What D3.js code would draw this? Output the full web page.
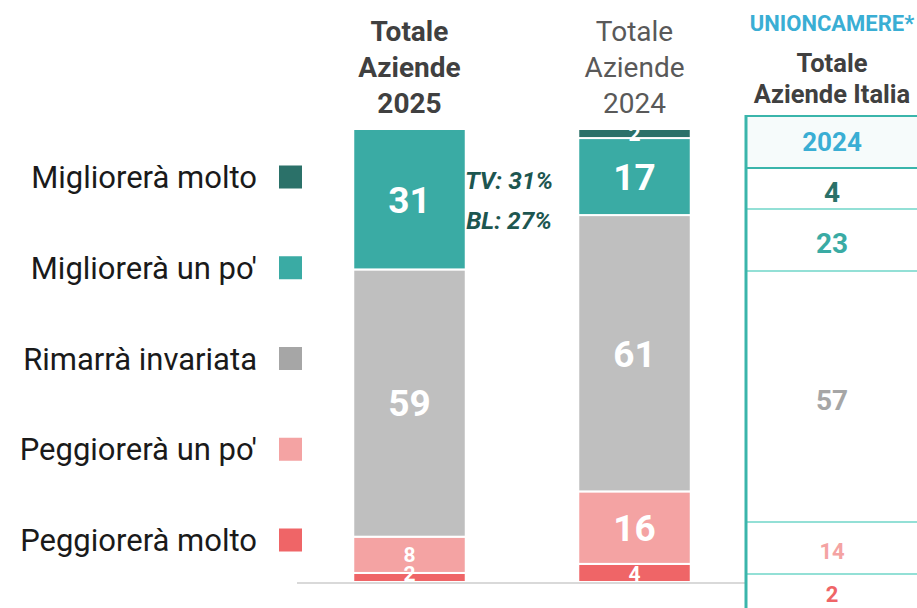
<!DOCTYPE html>
<html>
<head>
<meta charset="utf-8">
<script src="https://cdn.jsdelivr.net/npm/d3@7"></script>
<style>
  body { margin: 0; background: #fff; }
  svg { display: block; font-family: Roboto, "Noto Sans", sans-serif; }
</style>
</head>
<body>
<svg id="chart"></svg>
<script>
let w = 917;
let h = 608;

// categories and values (bottom to top of the stack)
let years = ["2025", "2024"];
let keys = ["Peggiorerà molto", "Peggiorerà un po'", "Rimarrà invariata", "Migliorerà un po'", "Migliorerà molto"];
let values2025 = [2, 8, 59, 31, 0];
let values2024 = [4, 16, 61, 17, 2];
let italia2024 = [2, 14, 57, 23, 4];
let tvLabel = "TV: 31%";
let blLabel = "BL: 27%";

let barColors = ["#ef6567", "#f4a3a3", "#bfbfbf", "#3aaba4", "#2b7169"];
let legendColors = ["#ef6567", "#f4a3a3", "#a6a6a6", "#3aaba4", "#2b7169"];

let svg = d3.select("#chart").attr("width", w).attr("height", h);

// build rows for d3.stack
let rows = years.map((y, i) => {
  let vals = i == 0 ? values2025 : values2024;
  let r = { year: y };
  keys.forEach((k, j) => r[k] = vals[j]);
  return r;
});
let series = d3.stack().keys(keys)(rows);

let xScale = d3.scaleBand()
  .domain(years)
  .range([297, 747])
  .paddingInner(0.5)
  .paddingOuter(0.25);
let yScale = d3.scaleLinear()
  .domain([0, 100])
  .range([582, 129]);
let cScale = d3.scaleOrdinal().domain(keys).range(barColors);

// flat list of non-empty segments
let segments = [];
series.forEach((s) => s.forEach((p) => {
  if (p[1] - p[0] > 0) segments.push({ key: s.key, year: p.data.year, y0: p[0], y1: p[1] });
}));

// bars
svg.append("g").selectAll("rect")
  .data(segments)
  .enter()
  .append("rect")
  .attr("x", (d) => xScale(d.year))
  .attr("y", (d) => yScale(d.y1))
  .attr("width", xScale.bandwidth())
  .attr("height", (d) => yScale(d.y0) - yScale(d.y1))
  .attr("fill", (d) => cScale(d.key))
  .attr("stroke", "#fff")
  .attr("stroke-width", 2);

// bar labels (small bottom segments pushed up a little, like the original)
svg.append("g").selectAll("text")
  .data(segments)
  .enter()
  .append("text")
  .attr("x", (d) => xScale(d.year) + xScale.bandwidth() / 2)
  .attr("y", (d) => Math.min((yScale(d.y0) + yScale(d.y1)) / 2, yScale(0) - 9))
  .attr("dy", "0.36em")
  .attr("text-anchor", "middle")
  .attr("fill", "#fff")
  .attr("font-weight", 700)
  .attr("font-size", (d) => (d.y1 - d.y0) >= 10 ? 37 : 21)
  .text((d) => d.y1 - d.y0);

// baseline
svg.append("line")
  .attr("x1", 297).attr("x2", 746)
  .attr("y1", yScale(0) + 1).attr("y2", yScale(0) + 1)
  .attr("stroke", "#d9d9d9")
  .attr("stroke-width", 2);

// column headers
let headers = [["Totale", "Aziende", "2025"], ["Totale", "Aziende", "2024"]];
years.forEach((y, i) => {
  let t = svg.append("text")
    .attr("x", xScale(y) + xScale.bandwidth() / 2)
    .attr("text-anchor", "middle")
    .attr("font-size", 28)
    .attr("font-weight", i == 0 ? 700 : 400)
    .attr("fill", i == 0 ? "#404040" : "#595959");
  headers[i].forEach((line, j) => {
    t.append("tspan").attr("x", xScale(y) + xScale.bandwidth() / 2)
      .attr("y", 41 + j * 36).text(line);
  });
});

// TV / BL annotations
svg.append("text")
  .attr("x", 509).attr("y", 189)
  .attr("text-anchor", "middle")
  .attr("font-size", 24.5).attr("font-weight", 700).attr("font-style", "italic")
  .attr("fill", "#1d5650")
  .text(tvLabel);
svg.append("text")
  .attr("x", 509).attr("y", 229)
  .attr("text-anchor", "middle")
  .attr("font-size", 24.5).attr("font-weight", 700).attr("font-style", "italic")
  .attr("fill", "#1d5650")
  .text(blLabel);

// legend (top to bottom = reversed stack order)
let legendKeys = keys.slice().reverse();
let lScale = d3.scalePoint().domain(legendKeys).range([177, 540]);
let legend = svg.selectAll("g.legend")
  .data(legendKeys)
  .enter()
  .append("g")
  .attr("class", "legend")
  .attr("transform", (d) => `translate(0,${lScale(d)})`);
legend.append("rect")
  .attr("x", 279).attr("y", -11.5)
  .attr("width", 23).attr("height", 23)
  .attr("fill", (d) => legendColors[keys.indexOf(d)]);
legend.append("text")
  .attr("x", 257)
  .attr("dy", "0.36em")
  .attr("text-anchor", "end")
  .attr("font-size", 31)
  .attr("fill", "#1a1a1a")
  .text((d) => d);

// Unioncamere table
let tx = 746;
let tcx = 832;
svg.append("text")
  .attr("x", tcx).attr("y", 31)
  .attr("text-anchor", "middle")
  .attr("font-size", 22).attr("font-weight", 700)
  .attr("fill", "#3aaed4")
  .text("UNIONCAMERE*");
svg.append("text")
  .attr("x", tcx).attr("y", 72)
  .attr("text-anchor", "middle")
  .attr("font-size", 25.5).attr("font-weight", 700)
  .attr("fill", "#404040")
  .text("Totale");
svg.append("text")
  .attr("x", tcx).attr("y", 103)
  .attr("text-anchor", "middle")
  .attr("font-size", 25.5).attr("font-weight", 700)
  .attr("fill", "#404040")
  .text("Aziende Italia");

let headTop = 116, headBottom = 168;
svg.append("rect")
  .attr("x", tx).attr("y", headTop)
  .attr("width", w - tx).attr("height", headBottom - headTop)
  .attr("fill", "#f6fbfb");
svg.append("text")
  .attr("x", tcx).attr("y", (headTop + headBottom) / 2)
  .attr("dy", "0.36em")
  .attr("text-anchor", "middle")
  .attr("font-size", 26).attr("font-weight", 700)
  .attr("fill", "#3aaed4")
  .text("2024");

// rows top to bottom, with their layout heights
let tableKeys = legendKeys;
let rowHeights = [41, 62, 251, 52, 40];
let rowTops = [];
let acc = headBottom;
rowHeights.forEach((rh) => { rowTops.push(acc); acc += rh; });

let tRows = svg.selectAll("g.trow")
  .data(tableKeys)
  .enter()
  .append("g")
  .attr("class", "trow");
tRows.append("line")
  .attr("x1", tx).attr("x2", w)
  .attr("y1", (d, i) => rowTops[i]).attr("y2", (d, i) => rowTops[i])
  .attr("stroke", (d, i) => i == 0 ? "#3ab5ab" : "#6fd6c9")
  .attr("stroke-width", (d, i) => i == 0 ? 2 : 1.5);
tRows.append("text")
  .attr("x", tcx)
  .attr("y", (d, i) => i == 4 ? rowTops[i] + 20 : rowTops[i] + rowHeights[i] / 2 + 3)
  .attr("dy", "0.36em")
  .attr("text-anchor", "middle")
  .attr("font-weight", 700)
  .attr("font-size", (d, i) => i < 3 ? 28 : 22)
  .attr("fill", (d) => legendColors[keys.indexOf(d)])
  .text((d) => italia2024[keys.indexOf(d)]);

// table borders
svg.append("line")
  .attr("x1", tx).attr("x2", w)
  .attr("y1", headTop).attr("y2", headTop)
  .attr("stroke", "#3ab5ab").attr("stroke-width", 2);
svg.append("line")
  .attr("x1", tx).attr("x2", tx)
  .attr("y1", headTop - 1).attr("y2", h)
  .attr("stroke", "#3ab5ab").attr("stroke-width", 3);
</script>
</body>
</html>
